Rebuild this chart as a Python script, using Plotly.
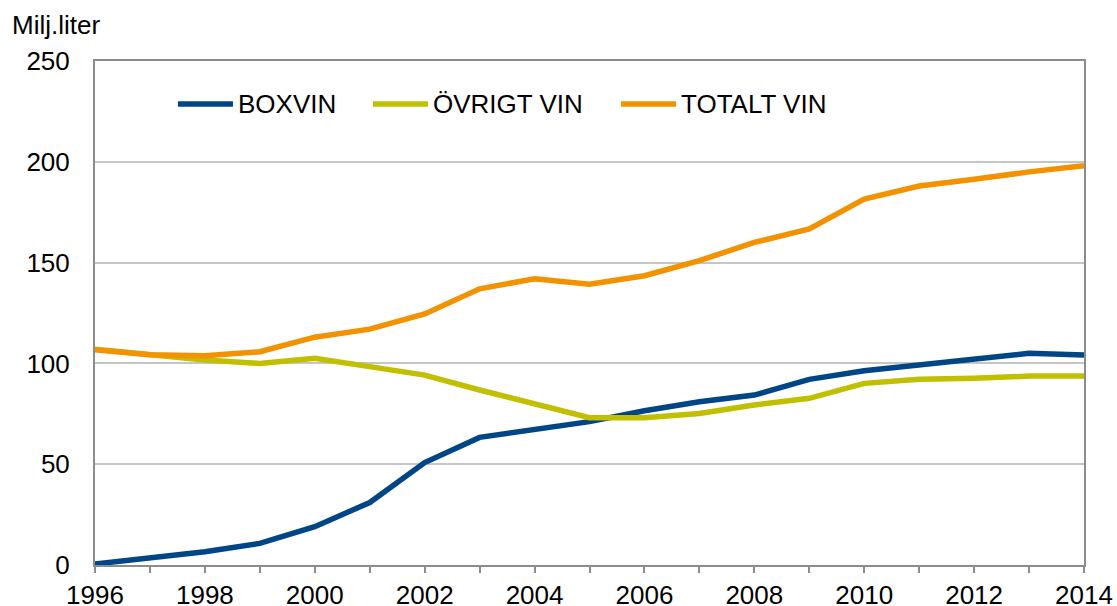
import plotly.graph_objects as go

years = list(range(1996, 2015))
boxvin = [0.5, 3.3, 6.6, 10.7, 19, 31, 50.8, 63.3, 67, 71.1, 76.5, 81, 84.3, 92.1, 96.4, 99.2, 102, 105, 104.2]
ovrigt = [107, 104.5, 101.7, 100, 102.5, 98.4, 94.2, 86.8, 79.7, 73.1, 73, 75.2, 79.4, 82.7, 90.1, 92.1, 92.6, 93.7, 93.8]
totalt = [106.8, 104.3, 103.8, 105.8, 113, 117, 124.5, 137, 142, 139.3, 143.5, 151, 160, 166.7, 181.5, 188, 191.3, 195, 198]

names = ["BOXVIN", "ÖVRIGT VIN", "TOTALT VIN"]
colors = ["#004586", "#c0bf00", "#f39200"]
series = [boxvin, ovrigt, totalt]

FS = 26
fig = go.Figure()
for n, c, s in zip(names, colors, series):
    fig.add_trace(go.Scatter(x=years, y=s, name=n, mode="lines",
                             line=dict(color=c, width=5.5)))

# manual legend (positions in paper coordinates)
leg_x = [(0.0839, 0.1395, 0.1426), (0.2811, 0.3367, 0.3397), (0.5318, 0.5875, 0.5905)]
leg_y = 0.9147
shapes = []
annotations = []
for (x0, x1, xt), n, c in zip(leg_x, names, colors):
    shapes.append(dict(type="line", xref="paper", yref="paper", x0=x0, x1=x1, y0=leg_y, y1=leg_y,
                       line=dict(color=c, width=5.5)))
    annotations.append(dict(text=n, xref="paper", yref="paper", x=xt, y=leg_y,
                            xanchor="left", yanchor="middle", showarrow=False,
                            font=dict(size=FS, color="#000")))
annotations.append(dict(text="Milj.liter", xref="paper", yref="paper", x=-0.0859, y=1.071,
                        xanchor="left", yanchor="middle", showarrow=False,
                        font=dict(size=FS, color="#000")))

fig.update_layout(
    width=1117, height=606,
    margin=dict(l=95, r=33, t=61, b=41, autoexpand=False),
    paper_bgcolor="white", plot_bgcolor="white",
    font=dict(family="Liberation Sans, Arial, sans-serif", size=FS, color="#000"),
    showlegend=False,
    shapes=shapes,
    annotations=annotations,
    xaxis=dict(range=[1996, 2014], tickmode="array", tickvals=list(range(1996, 2015, 2)),
               showgrid=False, zeroline=False, showline=True, linecolor="#8c8c8c", linewidth=2,
               mirror=True, ticks="outside", ticklen=6, tickcolor="#8c8c8c", tickwidth=2,
               automargin=False, tickfont=dict(size=FS)),
    yaxis=dict(range=[0, 250], tickvals=[0, 50, 100, 150, 200, 250],
               showgrid=True, gridcolor="#c6c6c6", gridwidth=2, zeroline=False,
               showline=True, linecolor="#8c8c8c", linewidth=2, mirror=True,
               ticks="", ticklabelstandoff=18, automargin=False, tickfont=dict(size=FS)),
)
fig.update_xaxes(minor=dict(ticks="outside", ticklen=6, tickcolor="#8c8c8c", tickwidth=2,
                            tickvals=years))

fig.write_html("out.html", config={"displayModeBar": False},
               post_script="document.body.style.margin='0';document.body.style.overflow='hidden';")
